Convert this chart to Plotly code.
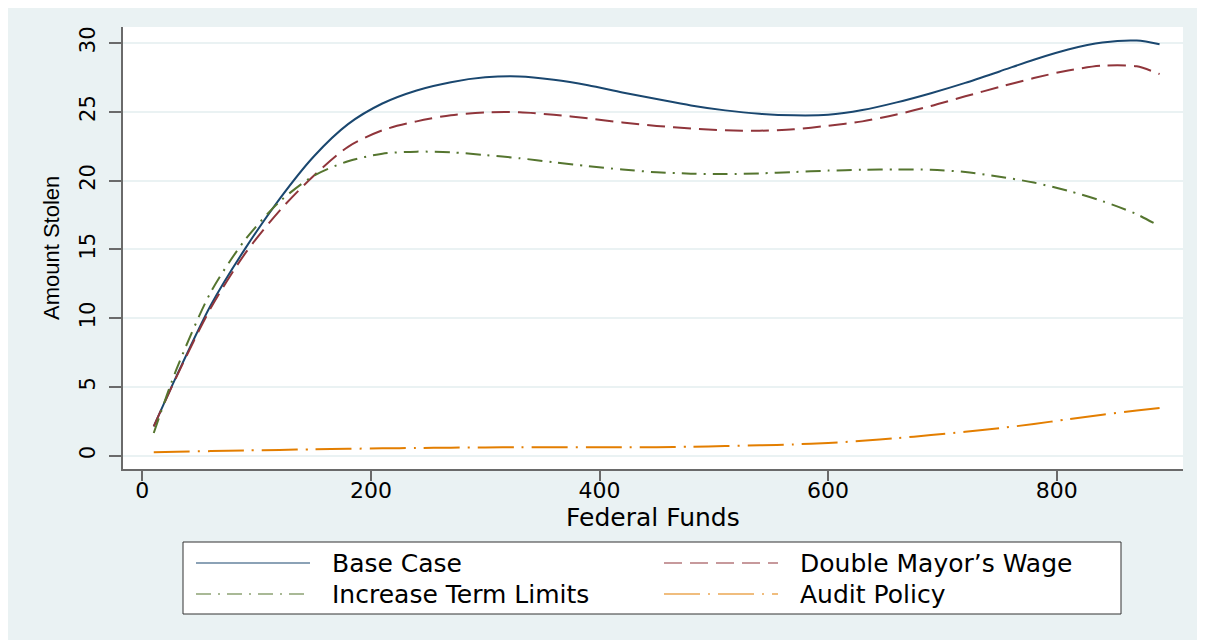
import plotly.graph_objects as go

# ---- data ----
federal_funds = [10, 30, 60, 90, 120, 150, 180, 210, 240, 270, 300, 330, 360, 390, 420, 450,
                 480, 510, 540, 570, 600, 630, 660, 690, 720, 750, 780, 810, 840, 870, 890]

base_case = [2.13, 5.8, 10.95, 15.05, 18.65, 21.75, 24.1, 25.6, 26.55, 27.15, 27.5, 27.57, 27.32,
             26.92, 26.4, 25.92, 25.46, 25.1, 24.85, 24.74, 24.78, 25.12, 25.68, 26.35, 27.1,
             27.93, 28.78, 29.52, 30.03, 30.17, 29.9]

double_wage = [2.13, 5.75, 10.75, 14.7, 17.8, 20.35, 22.45, 23.65, 24.3, 24.75, 24.95, 24.96, 24.78,
               24.52, 24.22, 23.97, 23.78, 23.65, 23.62, 23.72, 23.98, 24.3, 24.8, 25.42, 26.12,
               26.8, 27.45, 28.0, 28.35, 28.3, 27.74]

term_limits = [1.65, 6.3, 11.9, 15.7, 18.45, 20.35, 21.4, 21.95, 22.1, 22.05, 21.85, 21.62, 21.33,
               21.05, 20.8, 20.6, 20.5, 20.47, 20.52, 20.62, 20.72, 20.78, 20.81, 20.78, 20.62,
               20.28, 19.85, 19.25, 18.5, 17.55, 16.67]

audit_policy = [0.24, 0.28, 0.33, 0.38, 0.42, 0.46, 0.5, 0.53, 0.56, 0.58, 0.6, 0.61, 0.61, 0.61,
                0.61, 0.62, 0.65, 0.7, 0.75, 0.82, 0.92, 1.08, 1.27, 1.5, 1.74, 2.0, 2.3, 2.65,
                2.98, 3.28, 3.47]

series_names = ["Base Case", "Double Mayor\u2019s Wage", "Increase Term Limits", "Audit Policy"]
x_ticks = [0, 200, 400, 600, 800]
y_ticks = [0, 5, 10, 15, 20, 25, 30]

# ---- styles ----
colors = ["#1A476F", "#90353B", "#55752F", "#E37E00"]
dashes = ["solid", "18px,8px", "15px,7px,2px,7px", "36px,8px,2px,8px"]
BG = "#EAF2F3"
AXIS = "#6a6a6a"
HFONT = "DejaVu Sans"

# page is rendered with an 8px body margin; work in page pixels
OFF = 8
W, H = 1205 - OFF, 643 - OFF
PL, PR, PT, PB = 123, 1183, 27, 469          # plot area in page pixels
ML, MT = PL - OFF, PT - OFF
MR, MB = W - (PR - OFF), H - (PB - OFF)
PW, PH = PR - PL, PB - PT


def px_x(p):
    return (p - PL) / PW


def px_y(p):
    return (PB - p) / PH


fig = go.Figure()
all_series = [base_case, double_wage, term_limits, audit_policy]
for name, ys, c, d in zip(series_names, all_series, colors, dashes):
    fig.add_trace(go.Scatter(x=federal_funds, y=ys, mode="lines", name=name,
                             line=dict(color=c, width=2, dash=d, shape="spline", smoothing=0.8),
                             showlegend=False))

shapes = [
    # outer light background
    dict(type="rect", xref="paper", yref="paper", layer="below",
         x0=px_x(OFF), x1=px_x(1203), y0=px_y(640), y1=px_y(OFF),
         fillcolor=BG, line=dict(width=0)),
    # white plot region
    dict(type="rect", xref="paper", yref="paper", layer="below",
         x0=0, x1=1, y0=0, y1=1, fillcolor="white", line=dict(width=0)),
    # legend box
    dict(type="rect", xref="paper", yref="paper",
         x0=px_x(183), x1=px_x(1121), y0=px_y(614), y1=px_y(542),
         fillcolor="white", line=dict(color="#333333", width=1)),
]

annotations = [
    dict(text="Federal Funds", xref="paper", yref="paper", x=px_x(653), y=px_y(517),
         showarrow=False, xanchor="center", yanchor="middle",
         font=dict(family=HFONT, size=25, color="black")),
    dict(text="Amount Stolen", xref="paper", yref="paper", x=px_x(51), y=0.5,
         showarrow=False, textangle=-90, xanchor="center", yanchor="middle",
         font=dict(family="Liberation Sans", size=22, color="black")),
]

leg_pos = [(196, 310, 330, 563), (664, 778, 798, 563), (196, 310, 330, 594), (664, 778, 798, 594)]
for name, c, d, (lx0, lx1, tx, ly) in zip(series_names, colors, dashes, leg_pos):
    shapes.append(dict(type="line", xref="paper", yref="paper",
                       x0=px_x(lx0), x1=px_x(lx1), y0=px_y(ly), y1=px_y(ly),
                       line=dict(color=c, width=2, dash=d), opacity=0.5))
    annotations.append(dict(text=name, xref="paper", yref="paper", x=px_x(tx), y=px_y(ly),
                            showarrow=False, xanchor="left", yanchor="middle",
                            font=dict(family=HFONT, size=25, color="black")))

fig.update_layout(
    width=W, height=H,
    margin=dict(l=ML, r=MR, t=MT, b=MB, pad=0),
    paper_bgcolor="white",
    plot_bgcolor="rgba(0,0,0,0)",
    shapes=shapes,
    annotations=annotations,
    showlegend=False,
    xaxis=dict(range=[-16.9, 910.5], tickvals=x_ticks, ticktext=[str(v) for v in x_ticks],
               showgrid=False, zeroline=False, showline=True, linecolor=AXIS, linewidth=2,
               ticks="outside", ticklen=10, tickwidth=2, tickcolor=AXIS,
               ticklabelstandoff=-9,
               tickfont=dict(family=HFONT, size=22, color="black")),
    yaxis=dict(range=[-0.97, 31.16], tickvals=y_ticks, ticktext=[str(v) for v in y_ticks],
               showgrid=True, gridcolor=BG, gridwidth=1.5, zeroline=False,
               showline=True, linecolor=AXIS, linewidth=2,
               ticks="outside", ticklen=12, tickwidth=2, tickcolor=AXIS, tickangle=-90,
               ticklabelstandoff=6,
               tickfont=dict(family=HFONT, size=21, color="black")),
)

fig.write_html("out.html")
